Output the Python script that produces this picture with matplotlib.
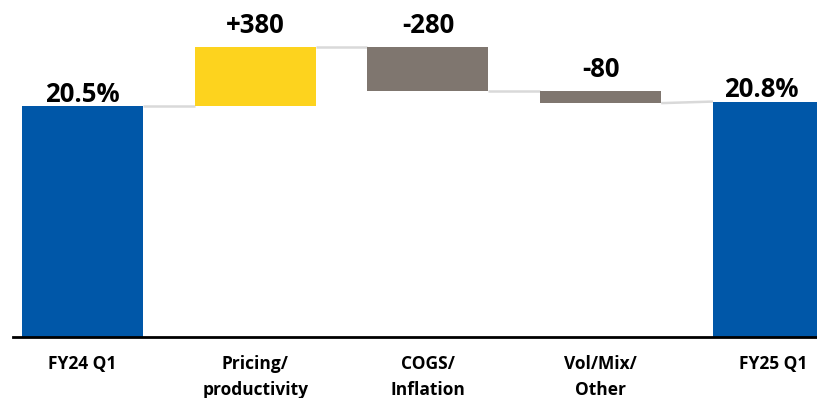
import matplotlib
matplotlib.use("Agg")
import matplotlib.pyplot as plt

# Gross margin bridge: FY24 Q1 -> FY25 Q1
categories = ["FY24 Q1", "Pricing/\nproductivity", "COGS/\nInflation", "Vol/Mix/\nOther", "FY25 Q1"]
start_margin = 20.5            # %
end_margin = 20.8              # %
deltas_bps = [380, -280, -80]  # basis points

BLUE = "#0057A8"
YELLOW = "#FDD31E"
GRAY = "#7F766F"
CONNECTOR = "#D9D9D9"

plt.rcParams["font.family"] = ["Open Sans", "DejaVu Sans"]

fig = plt.figure(figsize=(8.17, 3.98), dpi=100)
ax = fig.add_axes([13 / 817, 1 - 336.7 / 398, 1 - 13 / 817, 336.7 / 398])

width = 0.70
x = list(range(len(categories)))

# running levels after each step
levels = [start_margin]
for d in deltas_bps:
    levels.append(levels[-1] + d / 100.0)

# total bars
ax.bar(x[0], start_margin, width=width, color=BLUE, zorder=2)
ax.bar(x[-1], end_margin, width=width, color=BLUE, zorder=2)

# floating delta bars
for i, d in enumerate(deltas_bps):
    lo = min(levels[i], levels[i + 1])
    hi = max(levels[i], levels[i + 1])
    ax.bar(x[i + 1], hi - lo, bottom=lo, width=width,
           color=YELLOW if d > 0 else GRAY, zorder=2)

# connectors between consecutive bars
for i in range(len(categories) - 1):
    y0 = levels[i]
    y1 = levels[i] if i < len(categories) - 2 else end_margin
    ax.plot([x[i] + width / 2, x[i + 1] - width / 2], [y0, y1],
            color=CONNECTOR, lw=1.8, zorder=1, solid_capstyle="butt")

# value labels
lab_kw = dict(ha="center", va="baseline", fontsize=18.5, fontweight="bold",
              color="black", textcoords="offset points", annotation_clip=False)
ax.annotate(f"{start_margin:.1f}%", (x[0], start_margin), xytext=(0, 3), **lab_kw)
ax.annotate(f"{end_margin:.1f}%", (x[-1], end_margin), xytext=(-9, 3), **lab_kw)
for i, d in enumerate(deltas_bps):
    top = max(levels[i], levels[i + 1])
    ax.annotate(f"{d:+d}", (x[i + 1], top), xytext=(0, 9.5), **lab_kw)

# category labels under the axis
for xi, cat in zip(x, categories):
    for j, line in enumerate(cat.split("\n")):
        ax.annotate(line, (xi, 0), xycoords=("data", "axes fraction"),
                    xytext=(0, -23.5 - j * 18.5), textcoords="offset points",
                    ha="center", va="baseline", fontsize=12.5, fontweight="bold",
                    color="black", annotation_clip=False)

ax.set_xlim(-0.402, 4.252)
ax.set_ylim(5.82, 27.27)
ax.set_xticks([])
ax.set_yticks([])
for s in ("top", "left", "right"):
    ax.spines[s].set_visible(False)
ax.spines["bottom"].set_linewidth(2.0)
ax.spines["bottom"].set_color("black")
ax.patch.set_visible(False)

fig.savefig("out.png", dpi=100)
